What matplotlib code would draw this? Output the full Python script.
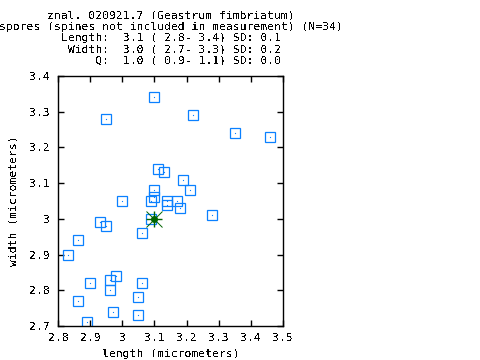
import matplotlib
matplotlib.use("Agg")
import matplotlib.pyplot as plt
from matplotlib.ticker import FormatStrFormatter, MultipleLocator

plt.rcParams.update({
    "font.family": "DejaVu Sans Mono",
    "font.size": 8.2,
    "text.antialiased": False,
    "lines.antialiased": False,
})

lengths = [3.10, 2.95, 3.22, 3.35, 3.46, 3.11, 3.13, 3.19, 3.21, 3.10,
           3.10, 3.09, 3.14, 3.14, 3.17, 3.18,
           3.09, 3.06, 3.28, 3.00, 2.93, 2.95, 2.86, 2.83,
           2.90, 2.86, 2.89, 2.96, 2.96, 2.98, 2.97, 3.06, 3.05, 3.05]
widths = [3.34, 3.28, 3.29, 3.24, 3.23, 3.14, 3.13, 3.11, 3.08, 3.08,
          3.06, 3.05, 3.05, 3.04, 3.05, 3.03,
          3.00, 2.96, 3.01, 3.05, 2.99, 2.98, 2.94, 2.90,
          2.82, 2.77, 2.71, 2.83, 2.80, 2.84, 2.74, 2.82, 2.78, 2.73]
mean_length = 3.10
mean_width = 3.00

title_lines = [
    "znal. 020921.7 (Geastrum fimbriatum)",
    "spores (spines not included in measurement) (N=34)",
    "Length:  3.1 ( 2.8- 3.4) SD: 0.1",
    " Width:  3.0 ( 2.7- 3.3) SD: 0.2",
    "     Q:  1.0 ( 0.9- 1.1) SD: 0.0",
]

BLUE = "#0a80ff"
GREEN = "#006400"

fig = plt.figure(figsize=(4.8, 3.6), dpi=100)
ax = fig.add_axes([0.1215, 0.0944, 0.4675, 0.6946])

ax.plot(lengths, widths, "s", ms=7.2, mfc="none", mec=BLUE, mew=0.9, ls="none")
ax.plot(lengths, widths, "s", ms=0.8, mfc=BLUE, mec=BLUE, mew=0, ls="none")

# mean marker: gnuplot-style asterisk with a dot
ax.plot(mean_length, mean_width, "+", ms=11.5, mew=1.0, color=GREEN)
ax.plot(mean_length, mean_width, "x", ms=11.5, mew=0.7, color=GREEN)
ax.plot(mean_length, mean_width, "o", ms=4, color=GREEN)

ax.set_xlim(2.8, 3.5)
ax.set_ylim(2.7, 3.4)
ax.xaxis.set_major_locator(MultipleLocator(0.1))
ax.yaxis.set_major_locator(MultipleLocator(0.1))
ax.xaxis.set_major_formatter(FormatStrFormatter("%g"))
ax.yaxis.set_major_formatter(FormatStrFormatter("%g"))
ax.tick_params(direction="in", length=4.5, width=1, top=True, right=True,
               pad=5)
ax.tick_params(axis="y", pad=6)
for s in ax.spines.values():
    s.set_linewidth(1)

ax.set_xlabel("length (micrometers)", labelpad=4)
ax.set_ylabel("width (micrometers)", labelpad=8)

x_mid = (0.1215 + 0.1215 + 0.4675) / 2
for i, line in enumerate(title_lines):
    fig.text(x_mid, 1 - (15.7 + 11.1 * i) / 360, line, ha="center", va="center")

fig.savefig("out.png", dpi=100)
